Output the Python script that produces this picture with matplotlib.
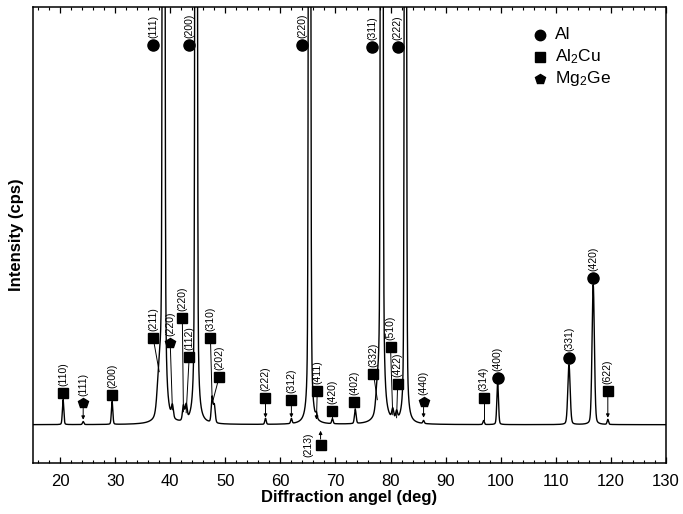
import numpy as np
import matplotlib
matplotlib.use('Agg')
import matplotlib.pyplot as plt

plt.rcParams['font.family'] = ['Liberation Sans', 'DejaVu Sans']
plt.rcParams['mathtext.default'] = 'regular'

# peak list: position (deg), height above background (cps), fwhm (deg)
peak_pos = [20.55, 24.2, 29.45, 38.0, 38.8, 40.4, 42.4, 42.9, 44.7, 47.6, 48.0,
            57.3, 62.0, 65.3, 66.55, 69.45, 73.6, 77.6, 78.4, 80.4, 81.1, 82.7,
            86.0, 96.9, 99.45, 112.4, 116.8, 119.45]
peak_h = [250, 30, 230, 400, 40000, 120, 150, 150, 30000, 250, 180,
          60, 50, 25000, 50, 50, 140, 200, 40000, 100, 80, 20000,
          30, 40, 420, 600, 1400, 50]
peak_w = [0.3, 0.3, 0.3, 0.8, 0.3, 0.4, 0.4, 0.4, 0.3, 0.35, 0.4,
          0.3, 0.3, 0.3, 0.3, 0.3, 0.35, 0.6, 0.3, 0.4, 0.4, 0.3,
          0.3, 0.3, 0.35, 0.5, 0.5, 0.3]
background = 380

# phase markers: marker x, marker y, line end x, line end y
al_hkl = ['(111)', '(200)', '(220)', '(311)', '(222)', '(400)', '(331)', '(420)']
al_x = [36.9, 43.45, 64.0, 76.7, 81.3, 99.45, 112.4, 116.8]
al_y = [4180, 4180, 4180, 4160, 4160, 850, 1050, 1850]

al2cu_hkl = ['(110)', '(200)', '(211)', '(220)', '(112)', '(310)', '(202)', '(222)', '(312)',
             '(411)', '(213)', '(420)', '(402)', '(332)', '(510)', '(422)', '(314)', '(622)']
al2cu_x = [20.55, 29.45, 36.9, 42.2, 43.45, 47.3, 48.9, 57.3, 62.0,
           66.7, 67.3, 69.45, 73.45, 76.9, 80.0, 81.3, 96.9, 119.45]
al2cu_y = [700, 680, 1250, 1450, 1060, 1250, 860, 650, 630,
           720, 180, 520, 610, 890, 1160, 790, 650, 720]
al2cu_lx = [20.55, 29.45, 38.0, 42.4, 42.9, 47.6, 47.8, 57.3, 62.0,
            66.55, 67.3, 69.45, 73.6, 77.6, 80.4, 81.1, 96.9, 119.45]
al2cu_ly = [630, 610, 910, 510, 500, 650, 630, 450, 450,
            430, 320, 430, 530, 630, 480, 450, 430, 450]
al2cu_arrow = [False, False, False, False, False, False, False, True, True,
               True, True, False, False, False, False, False, False, True]

mg2ge_hkl = ['(111)', '(220)', '(440)']
mg2ge_x = [24.2, 40.0, 86.0]
mg2ge_y = [600, 1200, 610]
mg2ge_lx = [24.2, 40.4, 86.0]
mg2ge_ly = [430, 530, 450]
mg2ge_arrow = [True, False, True]

x = np.arange(15, 130.001, 0.01)
y = np.full_like(x, background, dtype=float)
eta = 0.22
for p, h, w in zip(peak_pos, peak_h, peak_w):
    d = (x - p) / w
    y += h * (eta / (1 + 4 * d**2) + (1 - eta) * np.exp(-4 * np.log(2) * d**2))

fig = plt.figure(figsize=(6.83, 5.14), dpi=100)
ax = fig.add_axes([0.0476, 0.0998, 0.9274, 0.8866])
ax.plot(x, y, color='black', lw=1.0, zorder=2)


def mark(xs, ys, hkls, marker, ms, lx=None, ly=None, arrows=None):
    for i, (mx, my, hkl) in enumerate(zip(xs, ys, hkls)):
        if lx is not None and (lx[i] != mx or ly[i] != my):
            if arrows[i]:
                ax.annotate('', xy=(lx[i], ly[i]), xytext=(mx, my),
                            arrowprops=dict(arrowstyle='-|>', color='black', lw=0.7,
                                            mutation_scale=5, shrinkA=4, shrinkB=0),
                            zorder=3)
            else:
                ax.plot([mx, lx[i]], [my, ly[i]], color='black', lw=0.7, zorder=3)
        ax.plot(mx, my, marker=marker, color='black', ms=ms, zorder=4, clip_on=False)
        if hkl == '(213)' and marker == 's':
            ax.annotate(hkl, (mx, my), xytext=(-5, 0), textcoords='offset points',
                        rotation=90, ha='right', va='center', fontsize=7.5)
        else:
            ax.annotate(hkl, (mx, my), xytext=(0, 5), textcoords='offset points',
                        rotation=90, ha='center', va='bottom', fontsize=7.5)


mark(al_x, al_y, al_hkl, 'o', 8)
mark(al2cu_x, al2cu_y, al2cu_hkl, 's', 7.5, al2cu_lx, al2cu_ly, al2cu_arrow)
mark(mg2ge_x, mg2ge_y, mg2ge_hkl, 'p', 7, mg2ge_lx, mg2ge_ly, mg2ge_arrow)

# legend
leg = [('o', 'Al', 0.9386), ('s', 'Al$_2$Cu', 0.890), ('p', 'Mg$_2$Ge', 0.842)]
for m, lab, ly_ in leg:
    ax.plot(0.801, ly_, marker=m, color='black', ms=7.5, transform=ax.transAxes)
    ax.text(0.825, ly_, lab, transform=ax.transAxes, fontsize=12.5, va='center', ha='left')

ax.set_xlim(15, 130)
ax.set_ylim(0, 4557)
ax.set_xticks(np.arange(20, 131, 10))
ax.set_xticks(np.arange(16, 131, 2), minor=True)
ax.set_yticks([])
ax.tick_params(axis='x', which='both', direction='in', top=True, labelsize=12, pad=8)
ax.tick_params(axis='x', which='major', length=4, width=0.9)
ax.tick_params(axis='x', which='minor', length=2.5, width=0.8)
for s in ax.spines.values():
    s.set_linewidth(1.1)

ax.set_xlabel('Diffraction angel (deg)', fontsize=12, fontweight='bold', labelpad=1)
ax.set_ylabel('Intensity (cps)', fontsize=12, fontweight='bold', labelpad=6)

fig.savefig('out.png', dpi=100)
